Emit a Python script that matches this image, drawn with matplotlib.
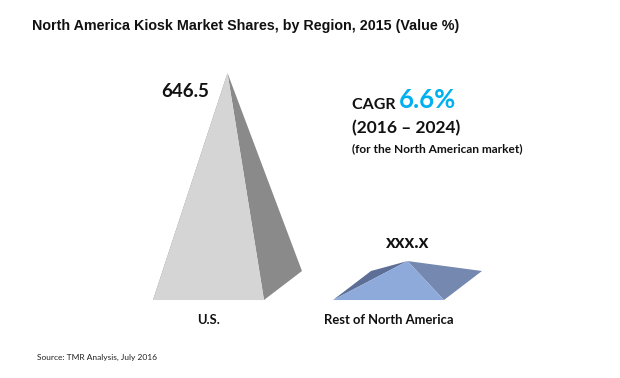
import matplotlib
matplotlib.use("Agg")
import matplotlib.pyplot as plt
from matplotlib.patches import Polygon

# data
regions = ["U.S.", "Rest of North America"]
values = [646.5, 111.0]
value_labels = ["646.5", "xxx.x"]
cagr = "6.6%"
period = "(2016 \u2013 2024)"

front_cols = ["#d5d5d5", "#8eaadb"]
right_cols = ["#8a8a8a", "#7488b0"]
left_cols = ["#8a8a8a", "#5d6f97"]

fig = plt.figure(figsize=(6.2, 3.78), dpi=100)
ax = fig.add_axes([0, 0, 1, 1])
ax.set_xlim(-1.1583, 2.2861)
ax.set_ylim(-222.1, 854.4)
ax.axis("off")

half_w = 0.3083   # half base width (category units)
dx = 0.211        # depth offset x
dy = 82.6         # depth offset y (value units)

for i, v in enumerate(values):
    c = i
    fl = (c - half_w, 0)
    fr = (c + half_w, 0)
    br = (c + half_w + dx, dy)
    bl = (c - half_w + dx, dy)
    apex = (c + dx / 2, v)
    ax.add_patch(Polygon([fl, bl, apex], closed=True, fc=left_cols[i], ec="none"))
    ax.add_patch(Polygon([fr, br, apex], closed=True, fc=right_cols[i], ec="none"))
    ax.add_patch(Polygon([fl, fr, apex], closed=True, fc=front_cols[i], ec="none"))
    ax.text(c, -68, regions[i], ha="center", va="baseline", fontsize=9.4,
            fontweight="bold", family="Lato", color="#111111")

# value labels
ax.annotate(value_labels[0], xy=(dx / 2, values[0]), xytext=(-13, -13.5),
            textcoords="offset points", ha="right", va="center",
            fontsize=13.5, fontweight="bold", family="Lato", color="#111111")
ax.annotate(value_labels[1], xy=(1 + dx / 2, values[1]), xytext=(0, 13),
            textcoords="offset points", ha="center", va="center",
            fontsize=13.5, fontweight="bold", family="Lato", color="#111111")

# CAGR block
t = ax.text(0.797, 545, "CAGR ", ha="left", va="baseline", fontsize=11.5,
            fontweight="bold", family="Lato", color="#111111")
ax.annotate(cagr, xycoords=t, xy=(1, 0), va="bottom", ha="left",
            fontsize=18.5, fontweight="bold", family="Lato", color="#00b0f0")
ax.text(0.797, 490, period, ha="left", va="center", fontsize=12.5,
        fontweight="bold", family="Lato", color="#111111")
ax.text(0.797, 432, "(for the North American market)", ha="left", va="center",
        fontsize=8.6, fontweight="bold", family="Lato", color="#111111")

fig.text(0.052, 0.931, "North America Kiosk Market Shares, by Region, 2015 (Value %)",
         ha="left", va="center", fontsize=10.3, fontweight="bold",
         family="Liberation Sans", color="#111111")
fig.text(0.06, 0.055, "Source: TMR Analysis, July 2016", ha="left", va="center",
         fontsize=6.05, family="Lato", color="#222222")

fig.savefig("out.png", dpi=100)
